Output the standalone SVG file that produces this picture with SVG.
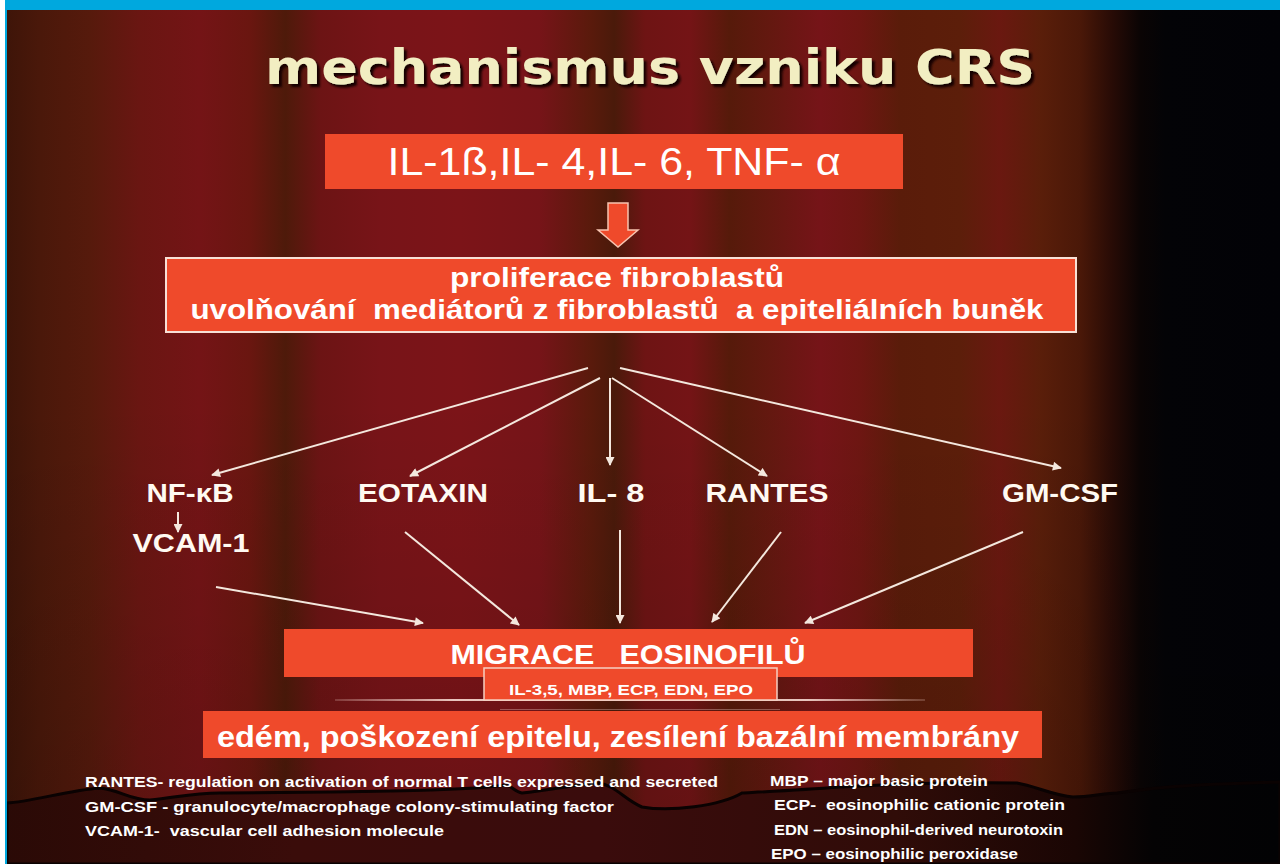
<svg xmlns="http://www.w3.org/2000/svg" width="1280" height="864" viewBox="0 0 1280 864">
<defs>
<linearGradient id="curtain" gradientUnits="userSpaceOnUse" x1="0" y1="0" x2="1280" y2="0">
<stop offset="0" stop-color="#3c1408"/>
<stop offset="0.031" stop-color="#4a180a"/>
<stop offset="0.07" stop-color="#561a0c"/>
<stop offset="0.109" stop-color="#6a1612"/>
<stop offset="0.156" stop-color="#741416"/>
<stop offset="0.195" stop-color="#6a1610"/>
<stop offset="0.223" stop-color="#4e1a0a"/>
<stop offset="0.25" stop-color="#6c1414"/>
<stop offset="0.297" stop-color="#781418"/>
<stop offset="0.359" stop-color="#7c1418"/>
<stop offset="0.422" stop-color="#761418"/>
<stop offset="0.461" stop-color="#5a1a0c"/>
<stop offset="0.48" stop-color="#4a1a0a"/>
<stop offset="0.504" stop-color="#6e1414"/>
<stop offset="0.539" stop-color="#741416"/>
<stop offset="0.57" stop-color="#561a0a"/>
<stop offset="0.602" stop-color="#641810"/>
<stop offset="0.641" stop-color="#761418"/>
<stop offset="0.672" stop-color="#6e1612"/>
<stop offset="0.703" stop-color="#5a1c0a"/>
<stop offset="0.75" stop-color="#5c1e0a"/>
<stop offset="0.781" stop-color="#6a1810"/>
<stop offset="0.8125" stop-color="#5a1e0a"/>
<stop offset="0.844" stop-color="#4a1808"/>
<stop offset="0.867" stop-color="#2a0c06"/>
<stop offset="0.891" stop-color="#0a0404"/>
<stop offset="0.91" stop-color="#030306"/>
<stop offset="1" stop-color="#020206"/>
</linearGradient>
<linearGradient id="hem" gradientUnits="userSpaceOnUse" x1="0" y1="0" x2="1280" y2="0">
<stop offset="0" stop-color="#2a0a06"/>
<stop offset="0.23" stop-color="#3a0c0a"/>
<stop offset="0.47" stop-color="#3a0c0c"/>
<stop offset="0.7" stop-color="#300c08"/>
<stop offset="0.84" stop-color="#1a0604"/>
<stop offset="0.9" stop-color="#040304"/>
<stop offset="1" stop-color="#020204"/>
</linearGradient>
<linearGradient id="shade" x1="0" y1="0" x2="0" y2="1">
<stop offset="0" stop-color="#000" stop-opacity="0"/>
<stop offset="1" stop-color="#000" stop-opacity="0.35"/>
</linearGradient>
<linearGradient id="bracket" x1="0" y1="0" x2="1" y2="0">
<stop offset="0" stop-color="#f6d8d0" stop-opacity="0.2"/>
<stop offset="0.2" stop-color="#f6d8d0" stop-opacity="0.9"/>
<stop offset="0.8" stop-color="#f6d8d0" stop-opacity="0.9"/>
<stop offset="1" stop-color="#f6d8d0" stop-opacity="0.2"/>
</linearGradient>
<filter id="tshadow" x="-5%" y="-20%" width="110%" height="150%">
<feDropShadow dx="3" dy="3" stdDeviation="0.8" flood-color="#140604" flood-opacity="1"/>
</filter>
<marker id="ah" viewBox="0 0 10 10" refX="9" refY="5" markerWidth="10" markerHeight="9" markerUnits="userSpaceOnUse" orient="auto">
<path d="M0,0 L10,5 L0,10 z" fill="#f4e8de"/>
</marker>
<style>
.box{fill:#ef4a2b}
.bt{fill:#ffffff;font-family:"Liberation Sans",Arial,sans-serif;text-anchor:middle}
.lbl{fill:#fffaf2;font-family:"Liberation Sans",Arial,sans-serif;font-size:25px;font-weight:bold;text-anchor:middle}
.fn{fill:#ffffff;font-family:"Liberation Sans",Arial,sans-serif;font-size:14px;font-weight:bold}
.con{stroke:#f4e8de;stroke-width:2;fill:none;marker-end:url(#ah)}
</style>
</defs>

<!-- background -->
<rect x="0" y="0" width="1280" height="864" fill="url(#curtain)"/>
<rect x="0" y="400" width="1280" height="464" fill="url(#shade)" opacity="0.4"/>
<path d="M7,803 C30,802 70,790 100,788 C120,790 130,800 150,800 C175,798 190,793 220,793 L330,792 C400,791 470,790 506,785 C512,786 515,792 522,793 C550,790 580,784 598,783 C615,785 625,800 642,807 C670,812 720,806 742,793 C760,792 800,790 840,787 C880,785 920,782 1017,783 C1035,786 1055,796 1073,797 C1090,797 1105,793 1117,793 C1140,790 1160,785 1280,782 L1280,864 L7,864 Z" fill="url(#hem)" stroke="#0a0202" stroke-width="3"/>
<rect x="0" y="0" width="5" height="864" fill="#ffffff"/>
<rect x="5" y="0" width="2" height="864" fill="#00a8de"/>
<rect x="5" y="0" width="1275" height="10" fill="#00a8de"/>

<!-- title -->
<g id="title">
<text x="650" y="84" font-family="'DejaVu Sans',Verdana,sans-serif" font-size="48" font-weight="bold" text-anchor="middle" textLength="770" lengthAdjust="spacingAndGlyphs" fill="#f2eec2" filter="url(#tshadow)">mechanismus vzniku CRS</text>
</g>

<g id="cytokines">
<rect class="box" x="325" y="134" width="578" height="55"/>
<text class="bt" x="614" y="175" font-size="39" textLength="453" lengthAdjust="spacingAndGlyphs">IL-1ß,IL- 4,IL- 6, TNF- α</text>
</g>

<g id="block-arrow">
<polygon points="608,203 628,203 628,230 638,230 618,247 598,230 608,230" fill="#ef4a2b" stroke="#f8c4b0" stroke-width="1.5"/>
</g>

<g id="fibroblasts">
<rect class="box" x="166" y="258" width="910" height="74" stroke="#f8e0d6" stroke-width="2"/>
<text class="bt" x="617" y="287" font-size="27" font-weight="bold" textLength="334" lengthAdjust="spacingAndGlyphs">proliferace fibroblastů</text>
<text class="bt" x="617" y="319" font-size="27" font-weight="bold" textLength="853" lengthAdjust="spacingAndGlyphs" style="white-space:pre">uvolňování  mediátorů z fibroblastů  a epiteliálních buněk</text>
</g>

<g id="connectors">
<line class="con" x1="588" y1="368" x2="212" y2="475"/>
<line class="con" x1="600" y1="378" x2="410" y2="476"/>
<line class="con" x1="610" y1="378" x2="610" y2="465"/>
<line class="con" x1="612" y1="378" x2="767" y2="476"/>
<line class="con" x1="620" y1="368" x2="1061" y2="468"/>
<line class="con" x1="178" y1="512" x2="178" y2="532"/>
<line class="con" x1="216" y1="587" x2="423" y2="623"/>
<line class="con" x1="405" y1="532" x2="519" y2="625"/>
<line class="con" x1="620" y1="530" x2="620" y2="623"/>
<line class="con" x1="781" y1="532" x2="712" y2="622"/>
<line class="con" x1="1023" y1="532" x2="805" y2="623"/>
</g>

<g id="nfkb"><text class="lbl" x="190" y="502" textLength="87" lengthAdjust="spacingAndGlyphs">NF-κB</text></g>
<g id="vcam"><text class="lbl" x="191" y="552" textLength="117" lengthAdjust="spacingAndGlyphs">VCAM-1</text></g>
<g id="eotaxin"><text class="lbl" x="423" y="502" textLength="130" lengthAdjust="spacingAndGlyphs">EOTAXIN</text></g>
<g id="il8"><text class="lbl" x="611" y="502" textLength="67" lengthAdjust="spacingAndGlyphs">IL- 8</text></g>
<g id="rantes"><text class="lbl" x="767" y="502" textLength="123" lengthAdjust="spacingAndGlyphs">RANTES</text></g>
<g id="gmcsf"><text class="lbl" x="1060" y="502" textLength="116" lengthAdjust="spacingAndGlyphs">GM-CSF</text></g>

<g id="migrace">
<rect class="box" x="284" y="629" width="689" height="48"/>
<text class="bt" x="628" y="664" font-size="28" font-weight="bold" textLength="355" lengthAdjust="spacingAndGlyphs" style="white-space:pre">MIGRACE   EOSINOFILŮ</text>
</g>

<g id="mediators">
<rect x="335" y="699" width="590" height="2" fill="url(#bracket)"/>
<rect x="500" y="709" width="280" height="1" fill="#f6d8d0" opacity="0.35"/>
<rect class="box" x="484" y="668" width="293" height="32" stroke="#f6cfc2" stroke-width="1.5"/>
<text class="bt" x="631" y="695" font-size="14" font-weight="bold" textLength="244" lengthAdjust="spacingAndGlyphs">IL-3,5, MBP, ECP, EDN, EPO</text>
</g>

<g id="effects">
<rect class="box" x="203" y="711" width="839" height="47"/>
<text class="bt" x="618" y="747" font-size="29" font-weight="bold" textLength="802" lengthAdjust="spacingAndGlyphs">edém, poškození epitelu, zesílení bazální membrány</text>
</g>

<g id="legend">
<text class="fn" x="85" y="787" textLength="633" lengthAdjust="spacingAndGlyphs">RANTES- regulation on activation of normal T cells expressed and secreted</text>
<text class="fn" x="85" y="812" textLength="529" lengthAdjust="spacingAndGlyphs">GM-CSF -  granulocyte/macrophage colony-stimulating factor</text>
<text class="fn" x="85" y="836" textLength="359" lengthAdjust="spacingAndGlyphs" style="white-space:pre">VCAM-1-  vascular cell adhesion molecule</text>
<text class="fn" x="770" y="786" textLength="218" lengthAdjust="spacingAndGlyphs">MBP – major basic protein</text>
<text class="fn" x="774" y="810" textLength="291" lengthAdjust="spacingAndGlyphs" style="white-space:pre">ECP-  eosinophilic cationic protein</text>
<text class="fn" x="774" y="835" textLength="289" lengthAdjust="spacingAndGlyphs">EDN – eosinophil-derived neurotoxin</text>
<text class="fn" x="771" y="859" textLength="247" lengthAdjust="spacingAndGlyphs">EPO – eosinophilic peroxidase</text>
</g>
</svg>
